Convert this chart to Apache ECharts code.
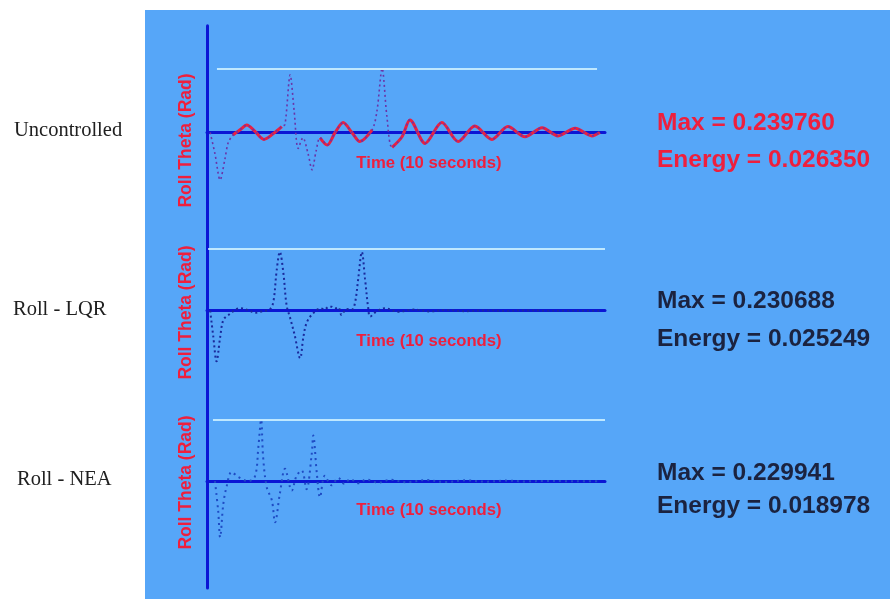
<!DOCTYPE html>
<html>
<head>
<meta charset="utf-8">
<script src="https://cdn.jsdelivr.net/npm/echarts@6/dist/echarts.min.js"></script>
<style>html,body{margin:0;padding:0;background:#fff}#c{width:890px;height:599px}</style>
</head>
<body>
<div id="c"></div>
<script>
// ---- data (time in seconds, roll theta in rad) ----
const rowLabels = ['Uncontrolled', 'Roll - LQR', 'Roll - NEA'];
const maxValues = [0.239760, 0.230688, 0.229941];
const energyValues = [0.026350, 0.025249, 0.018978];
const xAxisTitle = 'Time (10 seconds)';
const yAxisTitle = 'Roll Theta (Rad)';

const uncT = [0.08,0.2,0.33,0.45,0.53,0.65,0.83,1.0,1.2,1.43,1.66,1.88,1.96,2.09,2.19,2.29,2.41,2.54,2.64,2.74,2.84,3.02,3.22,3.42,3.64,3.84,4.15,4.27,4.4,4.52,4.65,4.9,5.1,5.48,5.9,6.31,6.73,7.16,7.56,7.99,8.42,8.82,9.25,9.67,9.87];
const uncV = [0,-0.08,-0.178,-0.10,-0.04,-0.01,0.01,0.028,0.005,-0.026,-0.005,0.022,0.03,0.216,0.08,-0.06,-0.02,-0.08,-0.14,-0.07,-0.02,-0.047,0,0.037,0,-0.034,0.01,0.08,0.24,0.06,-0.056,-0.016,0.047,-0.041,0.037,-0.034,0.024,-0.026,0.022,-0.016,0.018,-0.013,0.016,-0.013,0];
const uncFastWindows = [[0.1,0.6],[1.93,2.32],[2.45,2.8],[4.2,4.62]];

const lqrT = [0.08,0.16,0.24,0.33,0.41,0.54,0.83,1.02,1.21,1.4,1.58,1.67,1.75,1.83,1.92,2.0,2.09,2.2,2.34,2.42,2.5,2.63,2.86,2.95,3.05,3.13,3.22,3.3,3.38,3.5,3.64,3.72,3.8,3.89,3.97,4.05,4.1,4.25,4.47,4.8,5.2,5.6,6.0,6.5,7.0,7.5,8.0,8.5,9.0,9.5,9.9];
const lqrV = [0,-0.1,-0.19,-0.1,-0.035,-0.016,0.009,0.003,-0.008,-0.002,0.005,0.035,0.15,0.22,0.14,0.02,-0.028,-0.09,-0.178,-0.1,-0.047,-0.016,0.009,0.004,0.014,0.015,0.008,0.012,-0.016,0.006,0.004,0.03,0.12,0.22,0.12,0.01,-0.022,-0.004,0.009,-0.004,0.004,-0.003,0.002,-0.002,0.001,-0.001,0.001,0,0,0,0];

const neaT = [0.2,0.28,0.33,0.41,0.49,0.62,0.79,1.04,1.21,1.29,1.36,1.41,1.5,1.63,1.71,1.83,1.96,2.13,2.25,2.38,2.5,2.63,2.67,2.76,2.84,2.96,3.13,3.3,3.45,3.6,3.8,4.0,4.3,4.6,5.0,5.5,6.0,6.5,7.0,7.5,8.0,8.5,9.0,9.5,9.9];
const neaV = [0,-0.11,-0.21,-0.085,-0.022,0.034,0.015,0,0.02,0.127,0.23,0.09,-0.022,-0.072,-0.154,-0.047,0.046,-0.035,0.02,0.04,-0.03,0.1,0.171,0.028,-0.06,0.02,-0.015,0.012,-0.01,0.008,-0.008,0.006,-0.006,0.005,-0.004,0.004,-0.003,0.003,-0.002,0.002,-0.001,0.001,0,0,0];

const refLineStart = [0.25, 0.03, 0.15];
const refLineEnd = [9.8, 10, 10];

// ---- build ----
const zip = (t, v) => t.map((x, i) => [x, v[i]]);
const inFast = t => uncFastWindows.some(w => t > w[0] && t < w[1]);
const uncSlow = uncT.map((t, i) => [t, inFast(t) ? null : uncV[i]]);

const AXIS = '#0b16d4';
const BG = '#56a6f8';
const RED = '#ee1f3d';
const DARK = '#1b2340';

const grids = [
  {left: 207, right: 285, top: 25.8, height: 181.3},
  {left: 207, right: 285, top: 204, height: 181.3},
  {left: 207, right: 285, top: 374.3, height: 213.7}
];
const yRanges = [[-0.28, 0.4], [-0.28, 0.4], [-0.4, 0.4]];

const xAxes = grids.map((g, i) => ({
  type: 'value', gridIndex: i, min: 0, max: 10,
  axisLine: {show: true, onZero: true, lineStyle: {color: AXIS, width: 3}},
  axisTick: {show: false}, axisLabel: {show: false}, splitLine: {show: false}
}));
const yAxes = grids.map((g, i) => ({
  type: 'value', gridIndex: i, min: yRanges[i][0], max: yRanges[i][1],
  axisLine: {show: true, lineStyle: {color: AXIS, width: 3}},
  axisTick: {show: false}, axisLabel: {show: false}, splitLine: {show: false}
}));

const refMark = i => ({
  silent: true, symbol: 'none', label: {show: false},
  lineStyle: {color: '#bfe8ff', width: 2, type: 'solid'},
  data: [[{coord: [refLineStart[i], maxValues[i]]}, {coord: [refLineEnd[i], maxValues[i]]}]]
});

const series = [
  {type: 'line', xAxisIndex: 0, yAxisIndex: 0, data: uncSlow, showSymbol: false, smooth: 0.3,
   connectNulls: false, lineStyle: {color: RED, width: 3}, z: 3, markLine: refMark(0)},
  {type: 'line', xAxisIndex: 0, yAxisIndex: 0, data: zip(uncT, uncV), showSymbol: false, smooth: 0.3,
   lineStyle: {color: '#6a34a8', width: 1.6, type: [2, 3]}, z: 4},
  {type: 'line', xAxisIndex: 1, yAxisIndex: 1, data: zip(lqrT, lqrV), showSymbol: false, smooth: 0.35,
   lineStyle: {color: '#1a2a9c', width: 2, type: [2, 3]}, z: 4, markLine: refMark(1)},
  {type: 'line', xAxisIndex: 2, yAxisIndex: 2, data: zip(neaT, neaV), showSymbol: false, smooth: 0.35,
   lineStyle: {color: '#1f4cc4', width: 2, type: [2, 4]}, z: 4, markLine: refMark(2)}
];

const zeroY = [132.5, 310.7, 481];
const yTitleY = [140.5, 312.5, 482.5];
const statY = [[123, 160], [301.7, 339.3], [473.3, 506.7]];
const statColor = [RED, DARK, DARK];
const texts = [];
rowLabels.forEach((lab, i) => {
  texts.push({type: 'text', left: [14, 13, 17][i], top: zeroY[i] - 12, z: 10,
    style: {text: lab, font: '20.5px "Liberation Serif", "Times New Roman", serif', fill: '#202020'}});
  texts.push({type: 'text', x: 186, y: yTitleY[i], rotation: Math.PI / 2, z: 10,
    style: {text: yAxisTitle, font: 'bold 17.5px "Liberation Sans", Arial, sans-serif', fill: RED,
      align: 'center', verticalAlign: 'middle'}});
  texts.push({type: 'text', x: 429, y: [163, 341.7, 510][i], z: 10,
    style: {text: xAxisTitle, font: 'bold 16.7px "Liberation Sans", Arial, sans-serif', fill: RED,
      align: 'center', verticalAlign: 'middle'}});
  texts.push({type: 'text', x: 657, y: statY[i][0], z: 10,
    style: {text: 'Max = ' + maxValues[i].toFixed(6), font: 'bold 24.5px "Liberation Sans", Arial, sans-serif',
      fill: statColor[i], align: 'left', verticalAlign: 'middle'}});
  texts.push({type: 'text', x: 657, y: statY[i][1], z: 10,
    style: {text: 'Energy = ' + energyValues[i].toFixed(6), font: 'bold 24.5px "Liberation Sans", Arial, sans-serif',
      fill: statColor[i], align: 'left', verticalAlign: 'middle'}});
});

const chart = echarts.init(document.getElementById('c'), null, {renderer: 'canvas'});
chart.setOption({
  backgroundColor: '#ffffff',
  animation: false,
  grid: grids,
  xAxis: xAxes,
  yAxis: yAxes,
  series: series,
  graphic: {elements: [
    {type: 'rect', shape: {x: 145, y: 10, width: 745, height: 589}, style: {fill: BG}, z: -100, silent: true}
  ].concat(texts)}
});
</script>
</body>
</html>
